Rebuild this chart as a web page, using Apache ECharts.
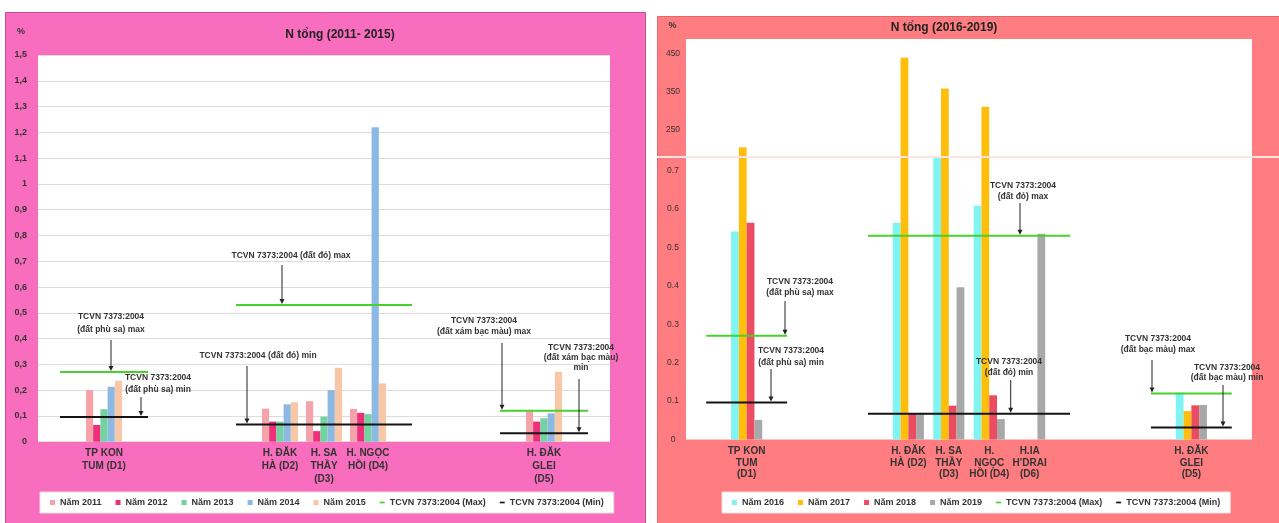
<!DOCTYPE html>
<html>
<head>
<meta charset="utf-8">
<title>N tổng</title>
<script src="https://cdn.jsdelivr.net/npm/echarts@6/dist/echarts.min.js"></script>
<style>
  html, body { margin: 0; padding: 0; background: #fff; }
  #chart { width: 1279px; height: 523px; }
</style>
</head>
<body>
<div id="chart"></div>
<script>
// ---------- N tổng (%), 2011 - 2015 ----------
const districtsA = ['TP KON\nTUM (D1)', 'H. ĐĂK\nHÀ (D2)', 'H. SA\nTHẦY\n(D3)', 'H. NGỌC\nHỒI (D4)', 'H. ĐĂK\nGLEI\n(D5)'];
const yearNamesA = ['Năm 2011', 'Năm 2012', 'Năm 2013', 'Năm 2014', 'Năm 2015'];
const n2011 = [0.200, 0.128, 0.157, 0.127, 0.118];
const n2012 = [0.065, 0.078, 0.041, 0.112, 0.078];
const n2013 = [0.126, 0.078, 0.097, 0.107, 0.091];
const n2014 = [0.213, 0.145, 0.200, 1.220, 0.110];
const n2015 = [0.236, 0.153, 0.287, 0.226, 0.271];
// TCVN 7373:2004 limits per soil group: đất phù sa, đất đỏ, đất xám bạc màu
const stdMaxA = [0.27, 0.53, 0.12];
const stdMinA = [0.096, 0.067, 0.033];

// ---------- N tổng (%), 2016 - 2019 ----------
const districtsB = ['TP KON\nTUM\n(D1)', 'H. ĐĂK\nHÀ (D2)', 'H. SA\nTHẦY\n(D3)', 'H.\nNGỌC\nHỒI (D4)', "H.IA\nH'DRAI\n(D6)", 'H. ĐĂK\nGLEI\n(D5)'];
const yearNamesB = ['Năm 2016', 'Năm 2017', 'Năm 2018', 'Năm 2019'];
const n2016 = [0.541, 0.564, 0.735, 0.608, null, 0.122];
const n2017 = [204.5, 440, 359, 311, null, 0.074];
const n2018 = [0.564, 0.068, 0.088, 0.115, null, 0.089];
const n2019 = [0.051, 0.066, 0.396, 0.053, 0.535, 0.090];
// TCVN 7373:2004 limits per soil group: đất phù sa, đất đỏ, đất bạc màu
const stdMaxB = [0.27, 0.53, 0.12];
const stdMinB = [0.096, 0.067, 0.031];

// tick labels
const ticksBLow = [0, 0.1, 0.2, 0.3, 0.4, 0.5, 0.6, 0.7];
const ticksBHigh = [250, 350, 450];

const MAX_NAME = 'TCVN 7373:2004 (Max)';
const MIN_NAME = 'TCVN 7373:2004 (Min)';

// ---------- layout ----------
const FONT = '"Liberation Sans", Arial, Helvetica, sans-serif';
const slotCountA = 13, slotsA = [1, 5, 6, 7, 11], spansA = [[0, 2], [4, 8], [10, 12]];
const slotCountB = 14, slotsB = [1, 5, 6, 7, 8, 12], spansB = [[0, 2], [4, 9], [11, 13]];
const gridA = { left: 38, top: 55, width: 572, height: 386.7 };
const breakY = 157;
const gridBHigh = { left: 686, top: 39, width: 566, height: breakY - 39 };
const gridBLow = { left: 686, top: breakY, width: 566, height: 439.5 - breakY };
const lowMaxB = 0.735, highMinB = 179, highMaxB = 489.5;

const colorsA = ['#f5a2aa', '#ee2f7a', '#72d3a0', '#8cb9e3', '#f8c7a6'];
const colorsB = ['#7ff4f3', '#ffbe0c', '#ec4c62', '#a8a8a8'];
const GREEN = '#47d12b', BLACK = '#141414';
const TEXT = '#333';
const DASH_ICON = 'path://M0,0 L9,0 L9,3 L0,3 Z';

function place(values, slots, n) {
  const out = new Array(n).fill('-');
  slots.forEach((s, i) => { if (values[i] != null) out[s] = values[i]; });
  return out;
}
function spread(values, spans, n) {
  const out = new Array(n).fill('-');
  spans.forEach(([a, b], i) => { for (let k = a; k <= b; k++) out[k] = values[i]; });
  return out;
}

const catsA = place(districtsA, slotsA, slotCountA).map(v => v === '-' ? '' : v);
const catsB = place(districtsB, slotsB, slotCountB).map(v => v === '-' ? '' : v);

const seriesA = [n2011, n2012, n2013, n2014, n2015];
const seriesB = [n2016, n2017, n2018, n2019];

const series = [];
seriesA.forEach((vals, i) => series.push({
  type: 'bar', name: yearNamesA[i], xAxisIndex: 0, yAxisIndex: 0,
  data: place(vals, slotsA, slotCountA),
  itemStyle: { color: colorsA[i] }, barGap: '0%', barCategoryGap: '18%', clip: true
}));
series.push(
  { type: 'line', name: MAX_NAME, xAxisIndex: 0, yAxisIndex: 0, data: spread(stdMaxA, spansA, slotCountA),
    symbol: 'none', lineStyle: { color: GREEN, width: 2 }, itemStyle: { color: GREEN }, z: 4 },
  { type: 'line', name: MIN_NAME, xAxisIndex: 0, yAxisIndex: 0, data: spread(stdMinA, spansA, slotCountA),
    symbol: 'none', lineStyle: { color: BLACK, width: 2 }, itemStyle: { color: BLACK }, z: 4 }
);
// lower segment of the broken axis
seriesB.forEach((vals, i) => series.push({
  type: 'bar', name: yearNamesB[i], xAxisIndex: 2, yAxisIndex: 2,
  data: place(vals, slotsB, slotCountB),
  itemStyle: { color: colorsB[i] }, barGap: '0%', barCategoryGap: '23%', clip: true
}));
// upper segment: only values above the break
seriesB.forEach((vals, i) => series.push({
  type: 'bar', name: yearNamesB[i], xAxisIndex: 1, yAxisIndex: 1,
  data: place(vals.map(v => (v != null && v > lowMaxB) ? v : null), slotsB, slotCountB),
  itemStyle: { color: colorsB[i] }, barGap: '0%', barCategoryGap: '23%', clip: true
}));
series.push(
  { type: 'line', name: MAX_NAME, xAxisIndex: 2, yAxisIndex: 2, data: spread(stdMaxB, spansB, slotCountB),
    symbol: 'none', lineStyle: { color: GREEN, width: 2 }, itemStyle: { color: GREEN }, z: 4 },
  { type: 'line', name: MIN_NAME, xAxisIndex: 2, yAxisIndex: 2, data: spread(stdMinB, spansB, slotCountB),
    symbol: 'none', lineStyle: { color: BLACK, width: 2 }, itemStyle: { color: BLACK }, z: 4 }
);

const catLabel = (lh, margin) => ({
  interval: 0, fontSize: 10, fontWeight: 'bold', color: TEXT, fontFamily: FONT,
  lineHeight: lh, margin: margin
});
const hiddenAxis = { axisLine: { show: false }, axisTick: { show: false } };

const legendCommon = {
  orient: 'horizontal', itemWidth: 5, itemHeight: 5, itemGap: 14, symbolKeepAspect: true,
  padding: [6, 10], backgroundColor: '#fff', borderColor: '#e2e2e2', borderWidth: 1,
  textStyle: { fontSize: 9, fontWeight: 'bold', color: TEXT, fontFamily: FONT }
};
const legendItems = names => names.map(n => ({ name: n, icon: 'rect' }))
  .concat([{ name: MAX_NAME, icon: DASH_ICON }, { name: MIN_NAME, icon: DASH_ICON }]);

const chart = echarts.init(document.getElementById('chart'));
chart.setOption({
  animation: false,
  backgroundColor: '#fff',
  textStyle: { fontFamily: FONT },
  grid: [
    Object.assign({ show: true, backgroundColor: '#fff', borderWidth: 0 }, gridA),
    Object.assign({ show: true, backgroundColor: '#fff', borderWidth: 0 }, gridBHigh),
    Object.assign({ show: true, backgroundColor: '#fff', borderWidth: 0 }, gridBLow)
  ],
  xAxis: [
    Object.assign({ type: 'category', gridIndex: 0, data: catsA, axisLabel: catLabel(13, 5) }, hiddenAxis),
    Object.assign({ type: 'category', gridIndex: 1, data: catsB, axisLabel: { show: false } }, hiddenAxis),
    Object.assign({ type: 'category', gridIndex: 2, data: catsB, axisLabel: catLabel(11.5, 6) }, hiddenAxis)
  ],
  yAxis: [
    Object.assign({
      type: 'value', gridIndex: 0, min: 0, max: 1.5, interval: 0.1,
      splitLine: { show: true, lineStyle: { color: '#dcdcdc', width: 1 } },
      axisLabel: { fontSize: 9, fontWeight: 'bold', color: TEXT, margin: 11,
        formatter: v => String(+v.toFixed(2)).replace('.', ',') }
    }, hiddenAxis),
    Object.assign({
      type: 'value', gridIndex: 1, min: highMinB, max: highMaxB, splitLine: { show: false },
      axisLabel: { customValues: ticksBHigh, fontSize: 8.5, color: TEXT, margin: 13, align: 'center' },
      axisTick: { show: false, customValues: ticksBHigh }
    }, { axisLine: { show: false } }),
    Object.assign({
      type: 'value', gridIndex: 2, min: 0, max: lowMaxB, splitLine: { show: false },
      axisLabel: { customValues: ticksBLow, fontSize: 8.5, color: TEXT, margin: 13, align: 'center',
        formatter: v => String(+v.toFixed(2)) },
      axisTick: { show: false, customValues: ticksBLow }
    }, { axisLine: { show: false } })
  ],
  legend: [
    Object.assign({ left: 40, top: 492, data: legendItems(yearNamesA) }, legendCommon),
    Object.assign({ left: 722, top: 492, data: legendItems(yearNamesB) }, legendCommon)
  ],
  series: series
});

// ---------- panels, titles and standard-limit annotations ----------
const notesA = [
  { text: 'TCVN 7373:2004 (đất đỏ) max', cx: 291, cy: 256, lh: 12, ax: 282, ay: 265, ref: stdMaxA[1] },
  { text: 'TCVN 7373:2004\n(đất phù sa) max', cx: 111, cy: 317, lh: 13, ax: 111, ay: 340, ref: stdMaxA[0] },
  { text: 'TCVN 7373:2004\n(đất phù sa) min', cx: 158, cy: 378, lh: 12, ax: 141, ay: 397, ref: stdMinA[0] },
  { text: 'TCVN 7373:2004 (đất đỏ) min', cx: 258, cy: 356, lh: 12, ax: 247, ay: 366, ref: stdMinA[1] },
  { text: 'TCVN 7373:2004\n(đất xám bạc màu) max', cx: 484, cy: 321, lh: 10.5, ax: 502, ay: 343, ref: stdMaxA[2] },
  { text: 'TCVN 7373:2004\n(đất xám bạc màu)\nmin', cx: 581, cy: 348, lh: 10, ax: 579, ay: 379, ref: stdMinA[2] }
];
const notesB = [
  { text: 'TCVN 7373:2004\n(đất đỏ) max', cx: 1023, cy: 185.5, lh: 11, ax: 1020, ay: 203, ref: stdMaxB[1] },
  { text: 'TCVN 7373:2004\n(đất phù sa) max', cx: 800, cy: 281.7, lh: 10.8, ax: 785, ay: 301, ref: stdMaxB[0] },
  { text: 'TCVN 7373:2004\n(đất phù sa) min', cx: 791, cy: 351, lh: 11.5, ax: 771, ay: 369, ref: stdMinB[0] },
  { text: 'TCVN 7373:2004\n(đất đỏ) min', cx: 1009, cy: 361.7, lh: 11, ax: 1010.7, ay: 380, ref: stdMinB[1] },
  { text: 'TCVN 7373:2004\n(đất bạc màu) max', cx: 1158, cy: 338.3, lh: 11, ax: 1152, ay: 360, ref: stdMaxB[2] },
  { text: 'TCVN 7373:2004\n(đất bạc màu) min', cx: 1227, cy: 367.3, lh: 10, ax: 1223, ay: 385, ref: stdMinB[2] }
];

function noteElements(notes, yAxisIndex) {
  const els = [];
  notes.forEach(n => {
    const tipY = chart.convertToPixel({ yAxisIndex: yAxisIndex }, n.ref) - 1;
    els.push({
      type: 'text', z: 20,
      style: { text: n.text, x: n.cx, y: n.cy - n.lh / 2, align: 'center', verticalAlign: 'top',
        lineHeight: n.lh, fill: TEXT, font: 'bold 8.5px ' + FONT }
    });
    els.push({
      type: 'line', z: 20,
      shape: { x1: n.ax, y1: n.ay, x2: n.ax, y2: tipY - 4 },
      style: { stroke: '#222', lineWidth: 1 }
    });
    els.push({
      type: 'polygon', z: 20,
      shape: { points: [[n.ax - 2.5, tipY - 5], [n.ax + 2.5, tipY - 5], [n.ax, tipY]] },
      style: { fill: '#222' }
    });
  });
  return els;
}

const graphics = [
  { type: 'rect', z: -10, shape: { x: 5.5, y: 12.5, width: 640, height: 520 },
    style: { fill: '#f86dbd', stroke: '#c94a95', lineWidth: 1 } },
  { type: 'rect', z: -10, shape: { x: 657.5, y: 16.5, width: 630, height: 520 },
    style: { fill: '#ff7d80', stroke: '#e5676a', lineWidth: 1 } },
  { type: 'text', z: 20, style: { text: 'N tổng (2011- 2015)', x: 340, y: 35, align: 'center', verticalAlign: 'middle',
    fill: '#222', font: 'bold 12px ' + FONT } },
  { type: 'text', z: 20, style: { text: 'N tổng (2016-2019)', x: 944, y: 28, align: 'center', verticalAlign: 'middle',
    fill: '#222', font: 'bold 12px ' + FONT } },
  { type: 'text', z: 20, style: { text: '%', x: 21, y: 32, align: 'center', verticalAlign: 'middle',
    fill: TEXT, font: 'bold 9px ' + FONT } },
  { type: 'text', z: 20, style: { text: '%', x: 672.5, y: 26, align: 'center', verticalAlign: 'middle',
    fill: TEXT, font: 'bold 9px ' + FONT } },
  // axis break marker
  { type: 'rect', z: 20, shape: { x: 657, y: breakY - 1, width: 622, height: 2 },
    style: { fill: '#fbe4e4' } }
].concat(noteElements(notesA, 0), noteElements(notesB, 2));

chart.setOption({ graphic: { elements: graphics } });
</script>
</body>
</html>
